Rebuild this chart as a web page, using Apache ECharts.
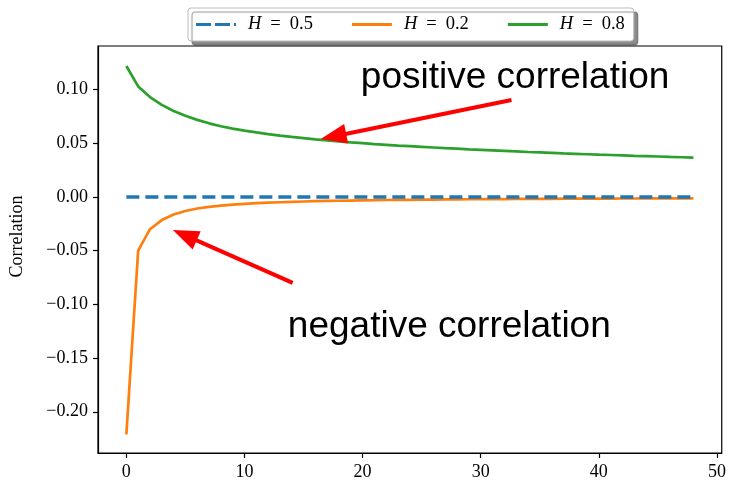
<!DOCTYPE html>
<html lang="en">
<head>
<meta charset="UTF-8">
<title>Correlation</title>
<script src="https://cdn.jsdelivr.net/npm/echarts@6/dist/echarts.min.js"></script>
<style>
html, body { margin: 0; padding: 0; background: #fff; }
#main { width: 729px; height: 481px; }
</style>
</head>
<body>
<div id="main"></div>
<script>
// lags on the x axis
var lags = [0,1,2,3,4,5,6,7,8,9,10,11,12,13,14,15,16,17,18,19,20,21,22,23,24,
            25,26,27,28,29,30,31,32,33,34,35,36,37,38,39,40,41,42,43,44,45,46,47,48];

// H = 0.5 (flat at zero)
var corrH05 = [0,0,0,0,0,0,0,0,0,0,0,0,0,0,0,0,0,0,0,0,0,0,0,0,0,
               0,0,0,0,0,0,0,0,0,0,0,0,0,0,0,0,0,0,0,0,0,0,0,0];

// H = 0.2
var corrH02 = [-0.221,-0.050,-0.030,-0.0215,-0.0163,-0.013,-0.0107,-0.0092,-0.008,-0.0071,
               -0.0064,-0.0058,-0.0053,-0.0049,-0.0045,-0.0042,-0.0039,-0.0037,-0.0035,-0.0033,
               -0.0031,-0.003,-0.0028,-0.0027,-0.0026,-0.0025,-0.0024,-0.0023,-0.0022,-0.0021,
               -0.002,-0.002,-0.0019,-0.0018,-0.0018,-0.0017,-0.0017,-0.0016,-0.0016,-0.0015,
               -0.0015,-0.0015,-0.0014,-0.0014,-0.0013,-0.0013,-0.0013,-0.0012,-0.0012];

// H = 0.8
var corrH08 = [0.122,0.103,0.093,0.0858,0.0801,0.0757,0.0718,0.0686,0.0659,0.0637,
               0.0618,0.0601,0.0586,0.0572,0.0559,0.0548,0.0537,0.0527,0.0518,0.0509,
               0.0501,0.0493,0.0486,0.0479,0.0473,0.0467,0.0461,0.0455,0.045,0.0444,
               0.0439,0.0434,0.0429,0.0424,0.0419,0.0415,0.0411,0.0406,0.0402,0.0398,
               0.0394,0.0391,0.0387,0.0383,0.038,0.0377,0.0373,0.037,0.0367];

var xTicks = [0, 10, 20, 30, 40, 50];
var yTicks = [-0.20, -0.15, -0.10, -0.05, 0.00, 0.05, 0.10];

// annotations (data coordinates)
var posLabel = { text: 'positive correlation', at: [19.85, 0.1108] };
var negLabel = { text: 'negative correlation', at: [13.67, -0.121] };
var posArrow = { from: [32.6, 0.0903], to: [16.45, 0.054] };
var negArrow = { from: [14.08, -0.080], to: [3.94, -0.0307] };

function pairs(xs, ys) {
    var out = [];
    for (var i = 0; i < xs.length; i++) { out.push([xs[i], ys[i]]); }
    return out;
}

var serif = "'Liberation Serif', 'DejaVu Serif', serif";
var solidIcon = 'path://M0,0h40v3h-40z';
var dashIcon = 'path://M0,0h15v3h-15z M19,0h15v3h-15z M38,0h2v3h-2z';

var chart = echarts.init(document.getElementById('main'), null, { renderer: 'canvas' });

var option = {
    animation: false,
    backgroundColor: '#fff',
    textStyle: { fontFamily: serif },
    grid: {
        left: 98, right: 7, top: 46, bottom: 28,
        show: true, borderColor: '#000', borderWidth: 1.2, backgroundColor: 'transparent'
    },
    legend: {
        left: 188, top: 8,
        padding: [7, 9, 7, 8],
        itemGap: 39,
        itemWidth: 40,
        itemHeight: 3.5,
        backgroundColor: '#fff',
        borderColor: '#bbb',
        borderWidth: 1,
        borderRadius: 3,
        shadowColor: 'rgba(0,0,0,0.45)',
        shadowBlur: 1,
        shadowOffsetX: 4,
        shadowOffsetY: 4,
        data: [
            { name: 'H=0.5', icon: dashIcon },
            { name: 'H=0.2', icon: solidIcon },
            { name: 'H=0.8', icon: solidIcon }
        ],
        formatter: function (name) { return '{i|H}{e|=}' + name.split('=')[1]; },
        textStyle: {
            fontFamily: serif, fontSize: 18.5, color: '#000', padding: [0, 0, 0, 7],
            rich: {
                i: { fontFamily: serif, fontStyle: 'italic', fontSize: 18.5, color: '#000' },
                e: { fontFamily: serif, fontSize: 18.5, color: '#000', padding: [0, 9, 0, 9] }
            }
        }
    },
    xAxis: {
        type: 'value',
        min: -2.4, max: 50.4,
        splitLine: { show: false },
        axisLine: { show: true, onZero: false, lineStyle: { color: '#000', width: 1.2 } },
        axisTick: { show: true, length: 5, lineStyle: { color: '#000', width: 1.2 }, customValues: xTicks },
        axisLabel: {
            customValues: xTicks, margin: 10, color: '#000', fontSize: 18, fontFamily: serif,
            formatter: function (v) { return String(Math.round(v)); }
        }
    },
    yAxis: {
        type: 'value',
        min: -0.2384, max: 0.1406,
        name: 'Correlation',
        nameLocation: 'middle',
        nameGap: 72,
        nameTextStyle: { fontFamily: serif, fontSize: 18, color: '#000', padding: [0, 0, 0, 26] },
        splitLine: { show: false },
        axisLine: { show: true, onZero: false, lineStyle: { color: '#000', width: 1.2 } },
        axisTick: { show: true, length: 5, lineStyle: { color: '#000', width: 1.2 }, customValues: yTicks },
        axisLabel: {
            customValues: yTicks, margin: 10, color: '#000', fontSize: 18, fontFamily: serif,
            formatter: function (v) {
                var s = Math.abs(v).toFixed(2);
                return v < -1e-9 ? '\u2212' + s : s;
            }
        }
    },
    series: [
        {
            name: 'H=0.5', type: 'line', showSymbol: false, symbol: 'none',
            data: pairs(lags, corrH05),
            lineStyle: { color: '#1f77b4', width: 3.5, type: [13, 6] },
            itemStyle: { color: '#1f77b4' }, z: 3
        },
        {
            name: 'H=0.2', type: 'line', showSymbol: false, symbol: 'none',
            data: pairs(lags, corrH02),
            lineStyle: { color: '#ff7f0e', width: 2.7 },
            itemStyle: { color: '#ff7f0e' }, z: 2
        },
        {
            name: 'H=0.8', type: 'line', showSymbol: false, symbol: 'none',
            data: pairs(lags, corrH08),
            lineStyle: { color: '#2ca02c', width: 2.7 },
            itemStyle: { color: '#2ca02c' }, z: 2
        }
    ]
};

chart.setOption(option);

// arrows and notes, placed through the chart's own scales
function arrowShapes(a) {
    var p0 = chart.convertToPixel({ gridIndex: 0 }, a.from);
    var p1 = chart.convertToPixel({ gridIndex: 0 }, a.to);
    var dx = p1[0] - p0[0], dy = p1[1] - p0[1];
    var len = Math.sqrt(dx * dx + dy * dy);
    var ux = dx / len, uy = dy / len;
    var headLen = 26, headHalf = 10;
    var bx = p1[0] - ux * headLen, by = p1[1] - uy * headLen;
    return [
        { type: 'line', z: 10, shape: { x1: p0[0], y1: p0[1], x2: bx + ux * 2, y2: by + uy * 2 },
          style: { stroke: '#ff0000', lineWidth: 4 } },
        { type: 'polygon', z: 10, shape: { points: [
            [p1[0], p1[1]],
            [bx - uy * headHalf, by + ux * headHalf],
            [bx + uy * headHalf, by - ux * headHalf]
          ] }, style: { fill: '#ff0000' } }
    ];
}

function noteText(n) {
    var p = chart.convertToPixel({ gridIndex: 0 }, n.at);
    return { type: 'text', z: 10, x: p[0], y: p[1],
             style: { text: n.text, fill: '#000', font: "37px 'Liberation Sans', Arial, sans-serif",
                      align: 'left', verticalAlign: 'middle' } };
}

var extras = [].concat(arrowShapes(posArrow), arrowShapes(negArrow), [noteText(posLabel), noteText(negLabel)]);
chart.setOption({ graphic: { elements: extras } });
</script>
</body>
</html>
